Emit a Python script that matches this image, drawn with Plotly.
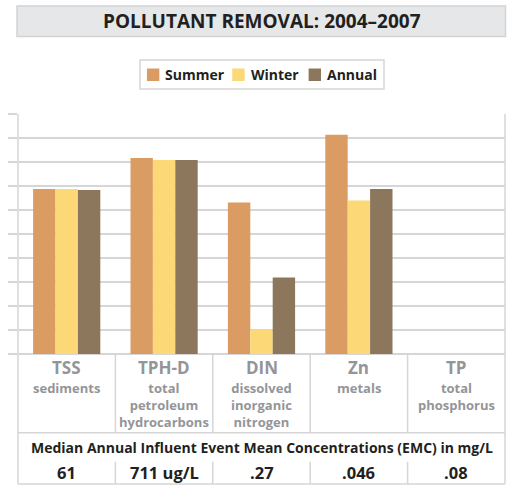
import plotly.graph_objects as go

# pollutant removal (%)
categories = ["TSS", "TPH-D", "DIN", "Zn", "TP"]
descriptions = [
    ["sediments"],
    ["total", "petroleum", "hydrocarbons"],
    ["dissolved", "inorganic", "nitrogen"],
    ["metals"],
    ["total", "phosphorus"],
]
summer = [68.7, 81.7, 63.1, 91.4, None]
winter = [68.7, 80.8, 10.0, 64.0, None]
annual = [68.3, 80.8, 31.9, 68.7, None]
emc_values = ["61", "711 ug/L", ".27", ".046", ".08"]

SERIES = [("Summer", summer, "#db9c63"), ("Winter", winter, "#fcd877"), ("Annual", annual, "#8d775c")]

W, H = 514, 485
PL, PR, PT, PB = 14, 505, 114, 354   # plot area in pixels
LINE = "#d6d6d6"
DARK = "#231f20"
GREY = "#939598"
FONT = "Open Sans"


def fx(px):
    return (px - PL) / (PR - PL)


def fy(py):
    return (PB - py) / (PB - PT)


def label(text, x, y, size, color, xref="paper", xanchor="center", yanchor="middle"):
    return dict(text=f"<b>{text}</b>", xref=xref, yref="paper", x=x, y=y, showarrow=False,
                xanchor=xanchor, yanchor=yanchor, font=dict(family=FONT, size=size, color=color))


fig = go.Figure()
for name, vals, col in SERIES:
    fig.add_trace(go.Bar(x=categories, y=vals, name=name, marker_color=col, marker_line_width=0,
                         showlegend=False))

shapes = []
ann = []
# title box
shapes.append(dict(type="rect", xref="paper", yref="paper", x0=fx(13), x1=fx(505.5), y0=fy(36.5), y1=fy(6),
                   fillcolor="#e6e7e8", line=dict(color="#d1d3d4", width=1.5), layer="below"))
ann.append(label("POLLUTANT REMOVAL: 2004–2007", fx(259.5), fy(21.5), 19, DARK))

# legend, drawn by hand so the swatch/text spacing matches
shapes.append(dict(type="rect", xref="paper", yref="paper", x0=fx(137), x1=fx(383), y0=fy(89), y1=fy(60),
                   fillcolor="white", line=dict(color=LINE, width=1.5)))
for (name, _, col), sx in zip(SERIES, (144, 230, 307)):
    shapes.append(dict(type="rect", xref="paper", yref="paper", x0=fx(sx), x1=fx(sx + 12.5),
                       y0=fy(81), y1=fy(68.5), fillcolor=col, line=dict(width=0)))
    ann.append(label(name, fx(sx + 16.5), fy(74.5), 14, DARK, xanchor="left"))

# frame of chart + table
for x in (PL, PR):
    shapes.append(dict(type="line", xref="paper", yref="paper", x0=fx(x), x1=fx(x), y0=fy(PT), y1=fy(484),
                       line=dict(color=LINE, width=1.5)))
for y in (432.7, 484):
    shapes.append(dict(type="line", xref="paper", yref="paper", x0=fx(PL), x1=fx(PR), y0=fy(y), y1=fy(y),
                       line=dict(color=LINE, width=1.5)))
# column separators between categories
for i in range(len(categories) - 1):
    for y0, y1 in ((PB, 432.7), (461.7, 484)):
        shapes.append(dict(type="line", xref="x", yref="paper", x0=i + 0.5, x1=i + 0.5, y0=fy(y0), y1=fy(y1),
                           line=dict(color=LINE, width=1.5)))

for i, cat in enumerate(categories):
    ann.append(label(cat, i, fy(367), 17, GREY, xref="x"))
    ann.append(label("<br>".join(descriptions[i]), i, fy(377), 13, GREY, xref="x", yanchor="top"))
    ann.append(label(emc_values[i], i, fy(472), 16.5, DARK, xref="x"))
ann.append(label("Median Annual Influent Event Mean Concentrations (EMC) in mg/L", fx(259.5), fy(447), 14, DARK))

fig.update_layout(
    width=W, height=H,
    margin=dict(l=PL, r=W - PR, t=PT, b=H - PB, pad=0),
    paper_bgcolor="white", plot_bgcolor="white",
    barmode="group", bargap=0.31, bargroupgap=0,
    shapes=shapes, annotations=ann,
)
fig.update_xaxes(showticklabels=False, showgrid=False, showline=False, ticks="", fixedrange=True)
fig.update_yaxes(range=[0, 100], dtick=10, showticklabels=False, showgrid=True, gridcolor=LINE, gridwidth=1.5,
                 zeroline=True, zerolinecolor=LINE, zerolinewidth=1.5, fixedrange=True,
                 ticks="outside", ticklen=9, tickcolor=LINE, tickwidth=1.5, showline=False)

fig.write_html("out.html", config={"displayModeBar": False},
               post_script="document.body.style.margin='0';")
